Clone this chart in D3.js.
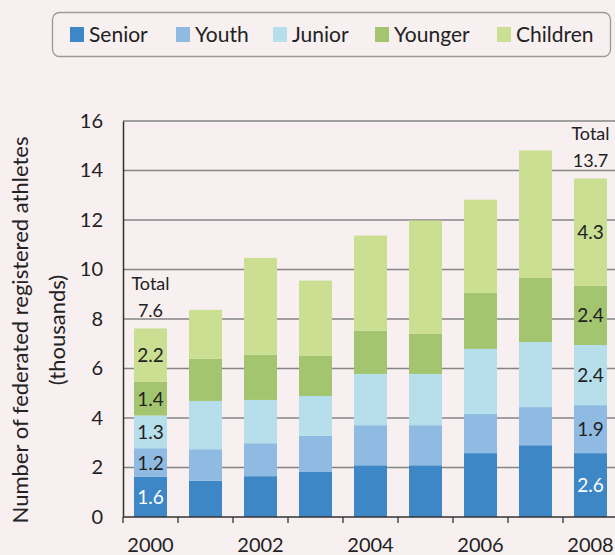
<!DOCTYPE html>
<html>
<head>
<meta charset="utf-8">
<script src="https://cdn.jsdelivr.net/npm/d3@7/dist/d3.min.js"></script>
<style>
  html, body { margin: 0; padding: 0; background: #f7eff0; }
  svg { display: block; }
  text { font-family: Lato, "Open Sans", sans-serif; fill: #222; }
</style>
</head>
<body>
<svg id="chart" width="615" height="555"></svg>
<script>
// Federated registered athletes by age category (thousands)
const years = [2000, 2001, 2002, 2003, 2004, 2005, 2006, 2007, 2008];
const seriesNames = ["Senior", "Youth", "Junior", "Younger", "Children"];
const senior   = [1.62, 1.46, 1.65, 1.82, 2.09, 2.09, 2.58, 2.90, 2.58];
const youth    = [1.16, 1.28, 1.33, 1.46, 1.62, 1.62, 1.58, 1.54, 1.94];
const junior   = [1.32, 1.95, 1.75, 1.61, 2.07, 2.07, 2.63, 2.63, 2.43];
const younger  = [1.36, 1.70, 1.82, 1.62, 1.74, 1.62, 2.26, 2.59, 2.39];
const children = [2.16, 1.98, 3.92, 3.04, 3.85, 4.58, 3.77, 5.15, 4.34];
const yTicks = [0, 2, 4, 6, 8, 10, 12, 14, 16];
const xTickLabels = [2000, 2002, 2004, 2006, 2008];
const labelledYears = [2000, 2008];
const colors = ["#3d87c6", "#8fbbe2", "#b6deeb", "#a3c56f", "#cbdf92"];

const table = years.map((yr, i) => ({
  year: yr,
  Senior: senior[i], Youth: youth[i], Junior: junior[i],
  Younger: younger[i], Children: children[i]
}));

const svg = d3.select("#chart");
const left = 123, bandW = 55;
const x = d3.scaleBand().domain(years).range([left, left + bandW * years.length]).paddingInner(0.4).paddingOuter(0.2);
const y = d3.scaleLinear().domain([0, 16]).range([517, 121]);

// horizontal gridlines
svg.append("g").selectAll("line").data(yTicks.filter(t => t > 0)).join("line")
  .attr("x1", left).attr("x2", 615)
  .attr("y1", d => y(d)).attr("y2", d => y(d))
  .attr("stroke", "#858585").attr("stroke-width", 1.6);

// stacked bars
const stack = d3.stack().keys(seriesNames)(table);
const layers = svg.append("g").selectAll("g").data(stack).join("g")
  .attr("fill", (d, i) => colors[i]);
layers.selectAll("rect").data(d => d).join("rect")
  .attr("x", d => x(d.data.year))
  .attr("width", x.bandwidth())
  .attr("y", d => y(d[1]))
  .attr("height", d => y(d[0]) - y(d[1]));

// segment value labels on the first and last year
const fmt = d3.format(".1f");
stack.forEach((layer, si) => {
  layer.filter(d => labelledYears.includes(d.data.year)).forEach(d => {
    svg.append("text")
      .attr("x", x(d.data.year) + x.bandwidth() / 2)
      .attr("y", (y(d[0]) + y(d[1])) / 2 + 7)
      .attr("text-anchor", "middle")
      .attr("font-size", 19)
      .style("fill", si === 0 ? "#ffffff" : "#222")
      .text(fmt(d[1] - d[0]));
  });
});

// totals above labelled bars
labelledYears.forEach(yr => {
  const row = table.find(r => r.year === yr);
  const total = d3.sum(seriesNames, k => row[k]);
  const cx = x(yr) + x.bandwidth() / 2;
  const top = y(total);
  svg.append("text").attr("x", cx).attr("y", top - 38)
    .attr("text-anchor", "middle").attr("font-size", 18).text("Total");
  svg.append("text").attr("x", cx).attr("y", top - 11)
    .attr("text-anchor", "middle").attr("font-size", 18).text(fmt(total));
});

// y axis
const yAxis = svg.append("g").attr("transform", `translate(${left},0)`)
  .call(d3.axisLeft(y).tickValues(yTicks).tickSize(0).tickPadding(20));
yAxis.select(".domain").attr("stroke", "#333").attr("stroke-width", 1.5);
yAxis.selectAll("text").attr("font-size", 20).style("font-family", null);

// x axis: ticks on band boundaries, labels on even years
const xg = svg.append("g");
xg.append("line").attr("x1", left).attr("x2", 615).attr("y1", y(0)).attr("y2", y(0))
  .attr("stroke", "#333").attr("stroke-width", 1.5);
xg.selectAll("line.tick").data(years).join("line").attr("class", "tick")
  .attr("x1", d => x(d) - x.step() * x.paddingInner() / 2)
  .attr("x2", d => x(d) - x.step() * x.paddingInner() / 2)
  .attr("y1", y(0)).attr("y2", y(0) + 6)
  .attr("stroke", "#333").attr("stroke-width", 1.3);
xg.selectAll("text").data(xTickLabels).join("text")
  .attr("x", d => x(d) + x.bandwidth() / 2)
  .attr("y", 552)
  .attr("text-anchor", "middle").attr("font-size", 20)
  .text(d => d);

// y axis title
const title = svg.append("text")
  .attr("transform", "translate(0,330) rotate(-90)")
  .attr("text-anchor", "middle").attr("font-size", 22);
title.append("tspan").attr("x", 0).attr("y", 28).text("Number of federated registered athletes");
title.append("tspan").attr("x", 0).attr("y", 65).text("(thousands)");

// legend
const lg = svg.append("g");
lg.append("rect").attr("x", 52.5).attr("y", 12.5).attr("width", 558).attr("height", 44)
  .attr("rx", 7).attr("fill", "#f7eff0").attr("stroke", "#9a9a9a").attr("stroke-width", 1.3);
const legendX = [70, 176, 273, 375, 497];
seriesNames.forEach((name, i) => {
  lg.append("rect").attr("x", legendX[i]).attr("y", 27).attr("width", 14).attr("height", 15)
    .attr("fill", colors[i]);
  lg.append("text").attr("x", legendX[i] + 19).attr("y", 42).attr("font-size", 21).text(name);
});
</script>
</body>
</html>
